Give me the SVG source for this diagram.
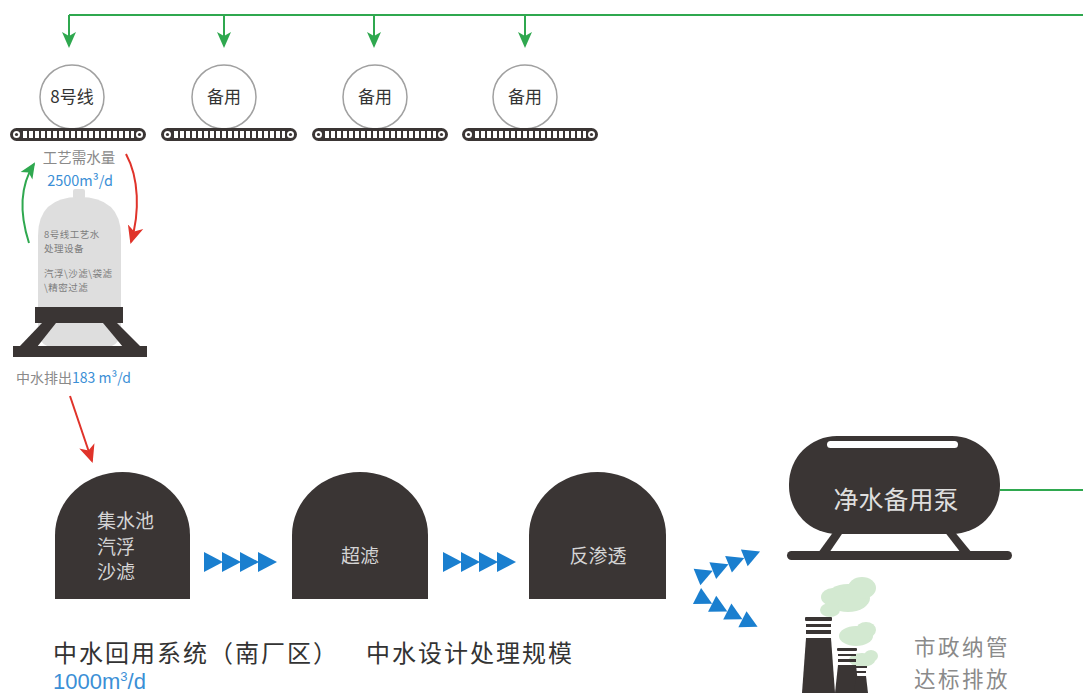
<svg xmlns="http://www.w3.org/2000/svg" width="1083" height="693" viewBox="0 0 1083 693">
  <defs>
    <style>
      .cjk { font-family: "Noto Sans CJK SC", "Noto Sans", sans-serif; }
      .lbl { font-size: 17px; fill: #333; text-anchor: middle; }
      .ring { fill: #fff; stroke: #a0a0a0; stroke-width: 1.5; }
      .dark { fill: #3a3534; }
      .dome-txt { font-size: 19px; fill: #d4d4d4; }
      .gray { fill: #8a8a8a; }
      .blue { fill: #3b8fd6; }
      .flow { fill: #1a7fcf; }
      .smoke { fill: #d3e9d1; }
      .green { stroke: #2fa84f; stroke-width: 2; fill: none; }
      .red { stroke: #e0332a; stroke-width: 2; fill: none; }
    </style>
    <marker id="ah-green" markerUnits="userSpaceOnUse" markerWidth="16" markerHeight="16" viewBox="0 0 16 16" refX="14" refY="8" orient="auto">
      <path d="M0,1 L16,8 L0,15 L4,8 Z" fill="#2fa84f"/>
    </marker>
    <marker id="ah-red" markerUnits="userSpaceOnUse" markerWidth="18" markerHeight="18" viewBox="0 0 18 18" refX="16" refY="9" orient="auto">
      <path d="M0,1 L18,9 L0,17 L5,9 Z" fill="#e0332a"/>
    </marker>
    <!-- conveyor belt under each production line -->
    <symbol id="belt" viewBox="0 0 136 13" width="136" height="13">
      <rect x="0" y="0" width="136" height="13" rx="6.5" fill="#3a3534"/>
      <line x1="13" y1="6.5" x2="124" y2="6.5" stroke="#fff" stroke-width="7" stroke-dasharray="4 2"/>
      <circle cx="6.5" cy="6.5" r="3.5" fill="#fff"/>
      <circle cx="6.5" cy="6.5" r="1.6" fill="#3a3534"/>
      <circle cx="129.5" cy="6.5" r="3.5" fill="#fff"/>
      <circle cx="129.5" cy="6.5" r="1.6" fill="#3a3534"/>
    </symbol>
    <polygon id="tri" points="0,-10 19,0 0,10" class="flow"/>
    <polygon id="tri-s" points="0,-9 17,0 0,9" class="flow"/>
  </defs>

  <rect width="1083" height="693" fill="#fff"/>

  <!-- connectors -->
  <g id="connectors">
    <!-- clean water supply header -->
    <path class="green" d="M1083,15 H69"/>
    <path class="green" d="M1000,490 H1083"/>
    <line class="green" x1="69" y1="15" x2="69" y2="46" marker-end="url(#ah-green)"/>
    <line class="green" x1="224" y1="15" x2="224" y2="46" marker-end="url(#ah-green)"/>
    <line class="green" x1="374" y1="15" x2="374" y2="46" marker-end="url(#ah-green)"/>
    <line class="green" x1="525" y1="15" x2="525" y2="46" marker-end="url(#ah-green)"/>
    <!-- loop around line 8 treatment -->
    <path class="green" d="M29,243 C19,212 20,186 34,164" marker-end="url(#ah-green)"/>
    <path class="red" d="M126,154 C139,178 140,212 131,242" marker-end="url(#ah-red)"/>
    <!-- discharge to collection pool -->
    <line class="red" x1="70" y1="396" x2="92" y2="461" marker-end="url(#ah-red)"/>
    <!-- treatment train flow -->
    <g id="flow-1">
      <use href="#tri" x="204" y="562"/>
      <use href="#tri" x="222" y="562"/>
      <use href="#tri" x="240" y="562"/>
      <use href="#tri" x="258" y="562"/>
    </g>
    <g id="flow-2">
      <use href="#tri" x="443" y="562"/>
      <use href="#tri" x="461" y="562"/>
      <use href="#tri" x="479" y="562"/>
      <use href="#tri" x="497" y="562"/>
    </g>
    <g id="flow-up" transform="translate(697,577) rotate(-22)">
      <use href="#tri-s" x="0" y="0"/>
      <use href="#tri-s" x="17" y="0"/>
      <use href="#tri-s" x="34" y="0"/>
      <use href="#tri-s" x="51" y="0"/>
    </g>
    <g id="flow-down" transform="translate(697,596) rotate(27)">
      <use href="#tri-s" x="0" y="0"/>
      <use href="#tri-s" x="17" y="0"/>
      <use href="#tri-s" x="34" y="0"/>
      <use href="#tri-s" x="51" y="0"/>
    </g>
  </g>

  <!-- production lines -->
  <g id="line-8">
    <circle class="ring" cx="72" cy="97" r="32"/>
    <text class="cjk lbl" x="72" y="103">8号线</text>
    <use href="#belt" x="10" y="128"/>
  </g>
  <g id="spare-1">
    <circle class="ring" cx="224" cy="97" r="32"/>
    <text class="cjk lbl" x="224" y="103">备用</text>
    <use href="#belt" x="161" y="128"/>
  </g>
  <g id="spare-2">
    <circle class="ring" cx="375" cy="97" r="32"/>
    <text class="cjk lbl" x="375" y="103">备用</text>
    <use href="#belt" x="312" y="128"/>
  </g>
  <g id="spare-3">
    <circle class="ring" cx="525" cy="97" r="32"/>
    <text class="cjk lbl" x="525" y="103">备用</text>
    <use href="#belt" x="462" y="128"/>
  </g>

  <g id="demand-label" class="cjk" font-size="14.5" text-anchor="middle">
    <text class="gray" x="79" y="163">工艺需水量</text>
    <text class="blue" x="80" y="186">2500m³/d</text>
  </g>

  <!-- line 8 process water treatment vessel -->
  <g id="line8-treatment">
    <rect x="73" y="189" width="12" height="10" rx="2" fill="#dedede"/>
    <path d="M38,236 Q38,197 79,197 Q121,197 121,236 V330 Q121,348 100,348 H59 Q38,348 38,330 Z" fill="#dedede"/>
    <rect class="dark" x="35" y="307" width="88" height="16"/>
    <polygon class="dark" points="42,323 56,323 37,347 19,347"/>
    <polygon class="dark" points="103,323 117,323 141,347 123,347"/>
    <rect class="dark" x="13" y="346" width="134" height="11"/>
    <g class="cjk" font-size="9.5" fill="#7d7d7d" letter-spacing="0.5">
      <text x="44" y="238">8号线工艺水</text>
      <text x="44" y="252">处理设备</text>
      <text x="44" y="277">汽浮\沙滤\袋滤</text>
      <text x="44" y="291">\精密过滤</text>
    </g>
  </g>

  <g id="discharge-label" class="cjk" font-size="14">
    <text x="16" y="383"><tspan class="gray">中水排出</tspan><tspan class="blue">183 m³/d</tspan></text>
  </g>

  <!-- reclaimed water treatment train -->
  <g id="collection-pool">
    <path class="dark" d="M55,599 V535 A67.5,63 0 0 1 190,535 V599 Z"/>
    <g class="cjk dome-txt">
      <text x="97" y="528">集水池</text>
      <text x="97" y="554">汽浮</text>
      <text x="97" y="579">沙滤</text>
    </g>
  </g>
  <g id="ultrafiltration">
    <path class="dark" d="M292,599 V535 A68,63 0 0 1 428,535 V599 Z"/>
    <text class="cjk dome-txt" x="360" y="563" text-anchor="middle">超滤</text>
  </g>
  <g id="reverse-osmosis">
    <path class="dark" d="M529,599 V535 A68.5,63 0 0 1 666,535 V599 Z"/>
    <text class="cjk dome-txt" x="598" y="563" text-anchor="middle">反渗透</text>
  </g>

  <!-- standby clean water pump -->
  <g id="standby-pump">
    <rect class="dark" x="789" y="436" width="211" height="98" rx="48"/>
    <rect x="827" y="441" width="131" height="7" rx="3.5" fill="#fff"/>
    <polygon class="dark" points="834,531 844,531 829,553 818,553"/>
    <polygon class="dark" points="944,531 954,531 972,553 961,553"/>
    <rect class="dark" x="787" y="551" width="225" height="9" rx="4.5"/>
    <text class="cjk" x="896" y="509" font-size="25" fill="#dedede" text-anchor="middle">净水备用泵</text>
  </g>

  <!-- municipal sewer discharge -->
  <g id="municipal-discharge">
    <g class="smoke">
      <ellipse cx="848" cy="598" rx="22" ry="14"/>
      <ellipse cx="862" cy="588" rx="14" ry="11"/>
      <ellipse cx="833" cy="597" rx="12" ry="9"/>
      <ellipse cx="830" cy="610" rx="10" ry="7"/>
      <ellipse cx="856" cy="636" rx="17" ry="10"/>
      <ellipse cx="866" cy="630" rx="10" ry="8"/>
      <ellipse cx="862" cy="660" rx="13" ry="7"/>
      <ellipse cx="871" cy="656" rx="7" ry="6"/>
    </g>
    <g class="dark">
      <rect x="805" y="617" width="27" height="4" rx="1"/>
      <rect x="806" y="624" width="25" height="3"/>
      <rect x="806" y="630" width="25" height="4"/>
      <polygon points="806,638 831,638 835,693 802,693"/>
      <rect x="837" y="648" width="20" height="3" rx="1"/>
      <rect x="838" y="654" width="18" height="2"/>
      <rect x="838" y="659" width="18" height="3"/>
      <polygon points="838,665 856,665 859,693 835,693"/>
      <rect x="855" y="666" width="12" height="2"/>
      <rect x="856" y="671" width="10" height="2"/>
      <polygon points="856,676 866,676 868,693 854,693"/>
    </g>
    <g class="cjk gray" font-size="21.5" letter-spacing="2.5">
      <text x="914" y="655">市政纳管</text>
      <text x="914" y="686.5">达标排放</text>
    </g>
  </g>

  <g id="system-caption">
    <text class="cjk" x="53" y="662" font-size="24" letter-spacing="2" fill="#333">中水回用系统（南厂区）</text>
    <text class="cjk" x="366" y="662" font-size="24" letter-spacing="2" fill="#333">中水设计处理规模</text>
    <text class="blue" x="53" y="689" font-family="Liberation Sans, Arial, sans-serif" font-size="22">1000m<tspan font-size="13" dy="-8">3</tspan><tspan dy="8">/d</tspan></text>
  </g>
</svg>
